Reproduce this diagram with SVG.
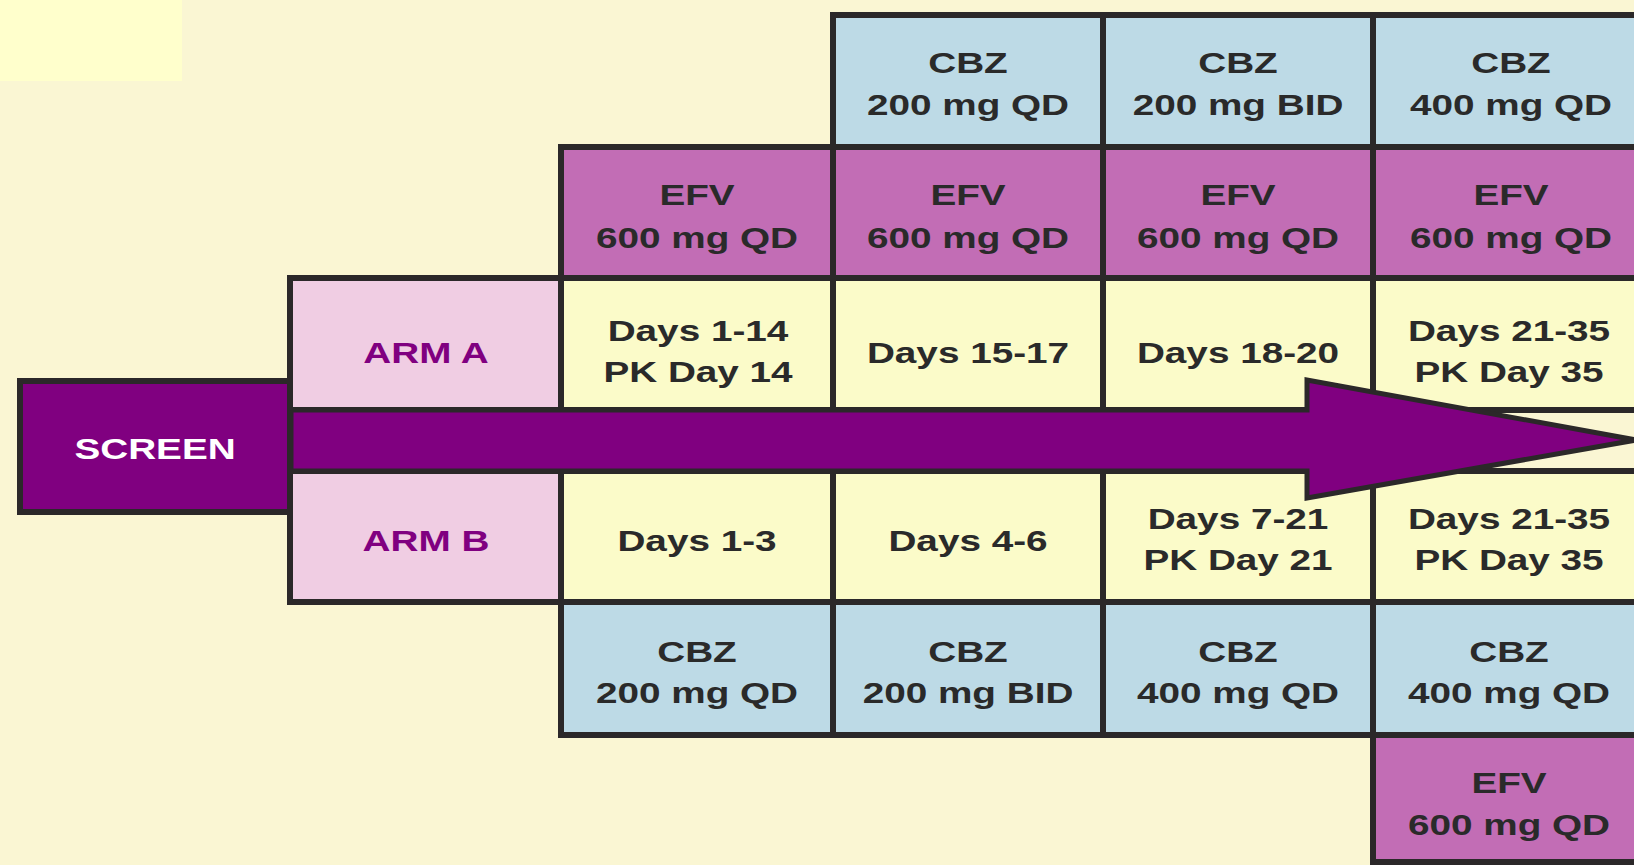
<svg xmlns="http://www.w3.org/2000/svg" width="1634" height="865" viewBox="0 0 1634 865">
  <style>
    .cell { stroke: #2b2829; stroke-width: 6; }
    .cbz { fill: #bddae6; }
    .efv { fill: #c26db5; }
    .day { fill: #fbfbc9; }
    .arm { fill: #f0cde3; }
    .t { font-family: "Liberation Sans", Arial, sans-serif; font-weight: bold; font-size: 30px; text-anchor: middle; fill: #2a2a2a; }
    .ta { fill: #800080; }
    .tw { fill: #ffffff; }
  </style>
  <rect x="0" y="0" width="1634" height="865" fill="#faf6d3"/>
  <rect x="0" y="0" width="182" height="81" fill="#ffffcc"/>

  <!-- Top CBZ row -->
  <g id="cbz-top-2"><rect class="cell cbz" x="833" y="15" width="270" height="132"/>
    <text class="t" transform="translate(968 0) scale(1.29 1)"><tspan x="0" y="73">CBZ</tspan><tspan x="0" y="115">200 mg QD</tspan></text></g>
  <g id="cbz-top-3"><rect class="cell cbz" x="1103" y="15" width="270" height="132"/>
    <text class="t" transform="translate(1238 0) scale(1.29 1)"><tspan x="0" y="73">CBZ</tspan><tspan x="0" y="115">200 mg BID</tspan></text></g>
  <g id="cbz-top-4"><rect class="cell cbz" x="1373" y="15" width="290" height="132"/>
    <text class="t" transform="translate(1511 0) scale(1.29 1)"><tspan x="0" y="73">CBZ</tspan><tspan x="0" y="115">400 mg QD</tspan></text></g>

  <!-- EFV row A -->
  <g id="efv-a-1"><rect class="cell efv" x="561" y="147" width="272" height="131"/>
    <text class="t" transform="translate(697 0) scale(1.29 1)"><tspan x="0" y="205">EFV</tspan><tspan x="0" y="248">600 mg QD</tspan></text></g>
  <g id="efv-a-2"><rect class="cell efv" x="833" y="147" width="270" height="131"/>
    <text class="t" transform="translate(968 0) scale(1.29 1)"><tspan x="0" y="205">EFV</tspan><tspan x="0" y="248">600 mg QD</tspan></text></g>
  <g id="efv-a-3"><rect class="cell efv" x="1103" y="147" width="270" height="131"/>
    <text class="t" transform="translate(1238 0) scale(1.29 1)"><tspan x="0" y="205">EFV</tspan><tspan x="0" y="248">600 mg QD</tspan></text></g>
  <g id="efv-a-4"><rect class="cell efv" x="1373" y="147" width="290" height="131"/>
    <text class="t" transform="translate(1511 0) scale(1.29 1)"><tspan x="0" y="205">EFV</tspan><tspan x="0" y="248">600 mg QD</tspan></text></g>

  <!-- Arm A row -->
  <g id="arm-a"><rect class="cell arm" x="290" y="278" width="271" height="132"/>
    <text class="t ta" transform="translate(426 0) scale(1.29 1)" x="0" y="363">ARM A</text></g>
  <g id="a-days-1"><rect class="cell day" x="561" y="278" width="272" height="132"/>
    <text class="t" transform="translate(698 0) scale(1.29 1)"><tspan x="0" y="341">Days 1-14</tspan><tspan x="0" y="382">PK Day 14</tspan></text></g>
  <g id="a-days-2"><rect class="cell day" x="833" y="278" width="270" height="132"/>
    <text class="t" transform="translate(968 0) scale(1.29 1)" x="0" y="363">Days 15-17</text></g>
  <g id="a-days-3"><rect class="cell day" x="1103" y="278" width="270" height="132"/>
    <text class="t" transform="translate(1238 0) scale(1.29 1)" x="0" y="363">Days 18-20</text></g>
  <g id="a-days-4"><rect class="cell day" x="1373" y="278" width="290" height="132"/>
    <text class="t" transform="translate(1509 0) scale(1.29 1)"><tspan x="0" y="341">Days 21-35</tspan><tspan x="0" y="382">PK Day 35</tspan></text></g>

  <!-- Arm B row -->
  <g id="arm-b"><rect class="cell arm" x="290" y="471" width="271" height="131"/>
    <text class="t ta" transform="translate(426 0) scale(1.29 1)" x="0" y="551">ARM B</text></g>
  <g id="b-days-1"><rect class="cell day" x="561" y="471" width="272" height="131"/>
    <text class="t" transform="translate(697 0) scale(1.29 1)" x="0" y="551">Days 1-3</text></g>
  <g id="b-days-2"><rect class="cell day" x="833" y="471" width="270" height="131"/>
    <text class="t" transform="translate(968 0) scale(1.29 1)" x="0" y="551">Days 4-6</text></g>
  <g id="b-days-3"><rect class="cell day" x="1103" y="471" width="270" height="131"/>
    <text class="t" transform="translate(1238 0) scale(1.29 1)"><tspan x="0" y="529">Days 7-21</tspan><tspan x="0" y="570">PK Day 21</tspan></text></g>
  <g id="b-days-4"><rect class="cell day" x="1373" y="471" width="290" height="131"/>
    <text class="t" transform="translate(1509 0) scale(1.29 1)"><tspan x="0" y="529">Days 21-35</tspan><tspan x="0" y="570">PK Day 35</tspan></text></g>

  <!-- Bottom CBZ row -->
  <g id="cbz-b-1"><rect class="cell cbz" x="561" y="602" width="272" height="133"/>
    <text class="t" transform="translate(697 0) scale(1.29 1)"><tspan x="0" y="662">CBZ</tspan><tspan x="0" y="703">200 mg QD</tspan></text></g>
  <g id="cbz-b-2"><rect class="cell cbz" x="833" y="602" width="270" height="133"/>
    <text class="t" transform="translate(968 0) scale(1.29 1)"><tspan x="0" y="662">CBZ</tspan><tspan x="0" y="703">200 mg BID</tspan></text></g>
  <g id="cbz-b-3"><rect class="cell cbz" x="1103" y="602" width="270" height="133"/>
    <text class="t" transform="translate(1238 0) scale(1.29 1)"><tspan x="0" y="662">CBZ</tspan><tspan x="0" y="703">400 mg QD</tspan></text></g>
  <g id="cbz-b-4"><rect class="cell cbz" x="1373" y="602" width="290" height="133"/>
    <text class="t" transform="translate(1509 0) scale(1.29 1)"><tspan x="0" y="662">CBZ</tspan><tspan x="0" y="703">400 mg QD</tspan></text></g>

  <!-- Bottom EFV -->
  <g id="efv-b-4"><rect class="cell efv" x="1373" y="735" width="290" height="127"/>
    <text class="t" transform="translate(1509 0) scale(1.29 1)"><tspan x="0" y="793">EFV</tspan><tspan x="0" y="835">600 mg QD</tspan></text></g>

  <!-- Connector: band and arrow -->
  <g id="connectors">
    <rect class="cell" x="290" y="410" width="1373" height="61" fill="#faf6d3"/>
    <polygon points="291,410 1307,410 1307,380 1636,440 1307,498 1307,471 291,471" fill="#800080" stroke="#2b2829" stroke-width="5" stroke-linejoin="miter"/>
  </g>

  <g id="screen"><rect class="cell" x="20" y="381" width="270" height="131" fill="#800080"/>
    <text class="t tw" transform="translate(155 0) scale(1.29 1)" x="0" y="459">SCREEN</text></g>
</svg>
